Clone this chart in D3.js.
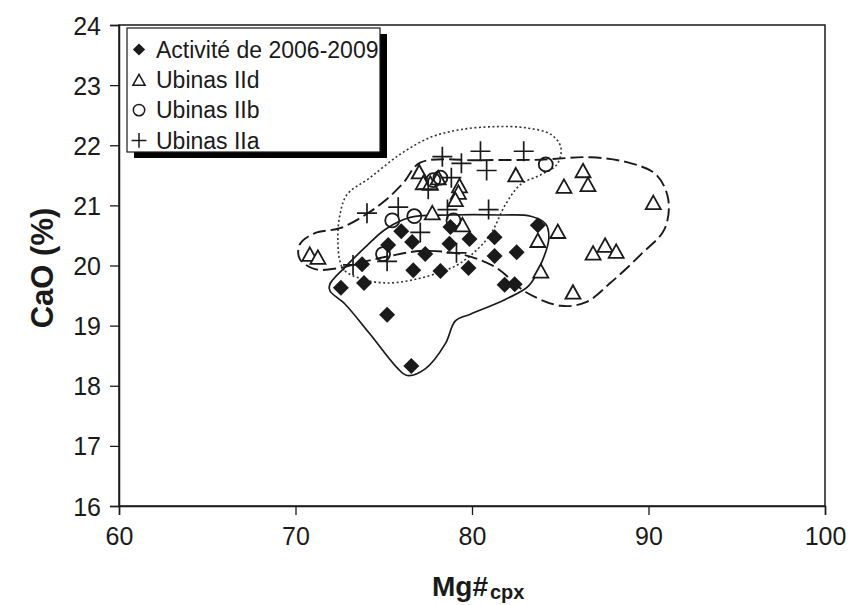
<!DOCTYPE html>
<html>
<head>
<meta charset="utf-8">
<script src="https://cdn.jsdelivr.net/npm/d3@7"></script>
<style>
  html, body { margin: 0; padding: 0; background: #fff; }
  svg { display: block; font-family: "Liberation Sans", Arial, sans-serif; }
</style>
</head>
<body>
<svg id="chart" width="856" height="605"></svg>
<script>
// Activité de 2006-2009 (filled diamonds)
const actMg  = [72.57, 73.77, 73.88, 75.19, 75.25, 75.99, 76.61, 76.67, 76.56, 77.35, 78.21, 78.72, 78.78, 79.86, 79.80, 81.28, 81.28, 81.85, 82.42, 82.53, 83.73];
const actCaO = [19.63, 20.02, 19.71, 19.18, 20.34, 20.57, 20.39, 19.92, 18.33, 20.19, 19.91, 20.36, 20.64, 20.44, 19.96, 20.47, 20.16, 19.68, 19.69, 20.22, 20.67];

// Ubinas IId (open triangles)
const iidMg  = [70.81, 71.27, 77.01, 77.24, 77.64, 78.09, 79.29, 79.23, 79.06, 77.75, 79.46, 82.48, 85.21, 84.86, 83.73, 83.90, 86.29, 86.57, 90.27, 86.86, 87.54, 88.17, 85.72];
const iidCaO = [20.19, 20.14, 21.56, 21.38, 21.37, 21.46, 21.33, 21.22, 21.10, 20.88, 20.68, 21.51, 21.32, 20.57, 20.42, 19.91, 21.58, 21.35, 21.05, 20.21, 20.34, 20.24, 19.56];

// Ubinas IIb (open circles)
const iibMg  = [74.96, 75.48, 76.73, 77.81, 78.21, 78.95, 84.18];
const iibCaO = [20.19, 20.75, 20.82, 21.42, 21.46, 20.75, 21.68];

// Ubinas IIa (crosses)
const iiaMg  = [74.05, 75.82, 77.07, 78.32, 79.40, 80.48, 80.83, 82.93, 78.83, 77.52, 78.61, 80.94, 75.19, 73.26, 79.12];
const iiaCaO = [20.87, 20.97, 20.55, 21.81, 21.70, 21.90, 21.58, 21.90, 21.46, 21.27, 20.93, 20.93, 20.07, 20.01, 20.21];

// Hand-drawn field outlines (Mg#, CaO)
const fieldAct = [[71.95,19.69],[72.80,19.97],[73.94,20.30],[75.08,20.60],[76.50,20.80],[78.78,20.84],[81.62,20.84],[83.33,20.82],[84.18,20.69],[84.35,20.44],[83.90,20.02],[83.21,19.66],[81.91,19.44],[79.91,19.19],[79.06,19.08],[78.49,18.70],[77.35,18.28],[76.33,18.17],[75.82,18.28],[74.22,18.86],[72.80,19.36],[71.95,19.58]];
const fieldIId = [[77.07,21.71],[80.48,21.75],[83.90,21.76],[86.74,21.80],[89.02,21.70],[90.44,21.51],[91.12,21.10],[90.90,20.60],[89.59,20.19],[87.88,19.72],[86.46,19.39],[85.04,19.33],[83.04,19.56],[81.34,19.97],[79.35,20.19],[77.07,20.24],[75.36,20.16],[73.83,20.06],[72.52,19.96],[71.10,19.94],[70.24,20.11],[70.24,20.35],[71.10,20.54],[72.52,20.62],[73.94,20.84],[75.08,21.08],[76.10,21.37]];
const fieldIIab = [[72.52,20.07],[72.80,19.91],[73.94,19.76],[75.36,19.71],[76.79,19.77],[78.21,19.89],[79.23,20.02],[80.20,20.24],[81.05,20.52],[81.91,21.02],[82.76,21.35],[83.90,21.51],[84.81,21.68],[85.04,21.96],[84.47,22.18],[83.04,22.29],[81.34,22.31],[79.35,22.26],[77.64,22.13],[75.93,21.85],[74.22,21.46],[72.92,21.18],[72.52,20.85],[72.40,20.44]];

const xTicks = [60, 70, 80, 90, 100];
const yTicks = [16, 17, 18, 19, 20, 21, 22, 23, 24];
const legendLabels = ["Activité de 2006-2009", "Ubinas IId", "Ubinas IIb", "Ubinas IIa"];

const svg = d3.select("#chart");
const ink = "#1a1a1a";
const plot = { left: 119, right: 825, top: 25, bottom: 506 };

const x = d3.scaleLinear().domain([60, 100]).range([plot.left, plot.right]);
const y = d3.scaleLinear().domain([16, 24]).range([plot.bottom, plot.top]);

// Frame
svg.append("rect")
  .attr("x", plot.left).attr("y", plot.top)
  .attr("width", plot.right - plot.left).attr("height", plot.bottom - plot.top)
  .attr("fill", "none").attr("stroke", ink).attr("stroke-width", 1.5);

// Axes
const xAxis = svg.append("g")
  .attr("transform", `translate(0,${plot.bottom})`)
  .call(d3.axisBottom(x).tickValues(xTicks).tickSize(9).tickPadding(12).tickFormat(d3.format("d")));
const yAxis = svg.append("g")
  .attr("transform", `translate(${plot.left},0)`)
  .call(d3.axisLeft(y).tickValues(yTicks).tickSize(9).tickPadding(9).tickFormat(d3.format("d")));
[xAxis, yAxis].forEach(g => {
  g.select(".domain").attr("stroke", ink).attr("stroke-width", 1.5);
  g.selectAll(".tick line").attr("stroke", ink).attr("stroke-width", 1.3);
  g.selectAll(".tick text").attr("fill", ink).style("font-size", "25px")
    .style("font-family", "'Liberation Sans', Arial, sans-serif");
});
yAxis.selectAll(".tick text").attr("dy", "0.36em");

// Axis titles
svg.append("text")
  .attr("transform", `translate(53,268) rotate(-90)`)
  .attr("text-anchor", "middle")
  .attr("fill", ink)
  .style("font-size", "31px").style("font-weight", "bold")
  .text("CaO (%)");

const xTitle = svg.append("text")
  .attr("x", 432).attr("y", 596)
  .attr("fill", ink)
  .style("font-size", "28px").style("font-weight", "bold");
xTitle.append("tspan").text("Mg#");
xTitle.append("tspan").attr("dx", 2).attr("dy", 3).style("font-size", "20px").text("cpx");

// Field outlines
const outline = d3.line()
  .x(d => x(d[0])).y(d => y(d[1]))
  .curve(d3.curveCatmullRomClosed.alpha(0.5));

svg.append("path").attr("d", outline(fieldIIab))
  .attr("fill", "none").attr("stroke", "#333").attr("stroke-width", 1.6)
  .attr("stroke-dasharray", "2,2.5");
svg.append("path").attr("d", outline(fieldIId))
  .attr("fill", "none").attr("stroke", ink).attr("stroke-width", 1.9)
  .attr("stroke-dasharray", "13,5");
svg.append("path").attr("d", outline(fieldAct))
  .attr("fill", "none").attr("stroke", ink).attr("stroke-width", 1.7);

// Marker shapes
const diamondSym = { draw(ctx, size) {
  const r = Math.sqrt(size) / 2;
  ctx.moveTo(0, -r); ctx.lineTo(r, 0); ctx.lineTo(0, r); ctx.lineTo(-r, 0); ctx.closePath();
} };
const triangleSym = { draw(ctx, size) {
  const s = Math.sqrt(size);
  const h = s * 0.9;
  ctx.moveTo(0, -h / 2); ctx.lineTo(s / 2, h / 2); ctx.lineTo(-s / 2, h / 2); ctx.closePath();
} };
const circleSym = { draw(ctx, size) {
  const r = Math.sqrt(size) / 2;
  ctx.moveTo(r, 0); ctx.arc(0, 0, r, 0, 2 * Math.PI);
} };
const plusSym = { draw(ctx, size) {
  const r = Math.sqrt(size) / 2;
  ctx.moveTo(-r, 0); ctx.lineTo(r, 0); ctx.moveTo(0, -r); ctx.lineTo(0, r);
} };

const series = [
  { mg: actMg, cao: actCaO, type: diamondSym, size: 256, fill: ink, stroke: "none", sw: 0 },
  { mg: iidMg, cao: iidCaO, type: triangleSym, size: 225, fill: "#fff", stroke: ink, sw: 1.8 },
  { mg: iibMg, cao: iibCaO, type: circleSym, size: 196, fill: "none", stroke: ink, sw: 1.8 },
  { mg: iiaMg, cao: iiaCaO, type: plusSym, size: 400, fill: "none", stroke: ink, sw: 1.7 }
];

const drawOrder = [1, 2, 3, 0];
drawOrder.forEach(i => {
  const s = series[i];
  const pts = s.mg.map((v, k) => [v, s.cao[k]]);
  svg.append("g").selectAll("path").data(pts).join("path")
    .attr("transform", d => `translate(${x(d[0])},${y(d[1])})`)
    .attr("d", d3.symbol().type(s.type).size(s.size))
    .attr("fill", s.fill).attr("stroke", s.stroke).attr("stroke-width", s.sw);
});

// Legend with drop shadow
const lg = { x: 127, y: 28, w: 253, h: 124, dx: 7, dy: 6 };
svg.append("rect")
  .attr("x", lg.x + lg.dx).attr("y", lg.y + lg.dy)
  .attr("width", lg.w).attr("height", lg.h).attr("fill", "#000");
svg.append("rect")
  .attr("x", lg.x).attr("y", lg.y).attr("width", lg.w).attr("height", lg.h)
  .attr("fill", "#fff").attr("stroke", ink).attr("stroke-width", 1.2);

const legendSize = [150, 150, 130, 220];
legendLabels.forEach((label, i) => {
  const cy = 49.5 + i * 30.3;
  const s = series[i];
  svg.append("path")
    .attr("transform", `translate(139,${cy})`)
    .attr("d", d3.symbol().type(s.type).size(legendSize[i]))
    .attr("fill", s.fill).attr("stroke", s.stroke).attr("stroke-width", s.sw ? 1.5 : 0);
  svg.append("text")
    .attr("x", 156).attr("y", cy).attr("dy", "0.36em")
    .attr("fill", ink)
    .style("font-size", "23px")
    .text(label);
});
</script>
</body>
</html>
